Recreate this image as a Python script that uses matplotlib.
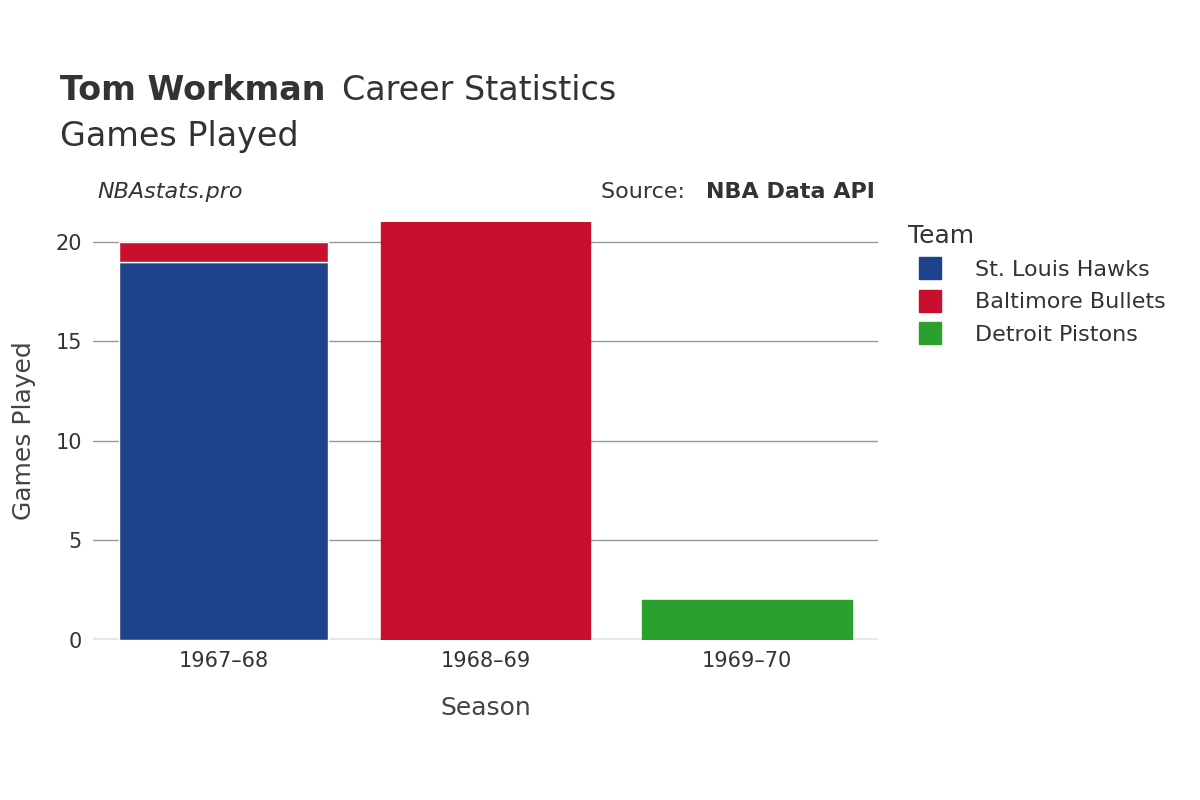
import matplotlib
matplotlib.use("Agg")
import matplotlib.pyplot as plt
from matplotlib.patches import FancyBboxPatch
from matplotlib.lines import Line2D

seasons = ["1967–68", "1968–69", "1969–70"]
teams = ["St. Louis Hawks", "Baltimore Bullets", "Detroit Pistons"]
colors = ["#1d4289", "#c8102e", "#2ca02c"]
hawks = [19, 0, 0]
bullets = [1, 21, 0]
pistons = [0, 0, 2]
series = [hawks, bullets, pistons]

fig = plt.figure(figsize=(12, 8), dpi=100)
ax = fig.add_axes([0.0775, 0.2, 0.654, 0.5225])
ax.set_xlim(-0.5, 2.5)
ax.set_ylim(0, 21)
ax.set_yticks([0, 5, 10, 15, 20])
ax.grid(axis="y", color="#999999", linewidth=1)
ax.set_axisbelow(True)
for s in ax.spines.values():
    s.set_visible(False)
ax.axhline(0, color="#e8e8e8", linewidth=3, zorder=1)
ax.tick_params(length=0, labelsize=15, colors="#333333", pad=8)
ax.set_xticks(range(3))
ax.set_xticklabels(seasons)

w = 0.8
for i in range(3):
    bottom = 0
    stack = [(series[k][i], colors[k]) for k in range(3) if series[k][i] > 0]
    for j, (v, c) in enumerate(stack):
        top_seg = j == len(stack) - 1
        ax.bar(i, v, w, bottom=bottom, color=c, edgecolor="white" if len(stack) > 1 else c, linewidth=1, zorder=2)
        bottom += v

ax.set_xlabel("Season", fontsize=18, color="#444444", labelpad=18)
ax.set_ylabel("Games Played", fontsize=18, color="#444444", labelpad=14)

fig.text(0.05, 0.875, "Tom Workman", fontsize=24, weight="bold", color="#333333")
fig.text(0.285, 0.875, "Career Statistics", fontsize=24, color="#333333")
fig.text(0.05, 0.818, "Games Played", fontsize=24, color="#333333")
fig.text(0.081, 0.752, "NBAstats.pro", fontsize=16, style="italic", color="#333333")
fig.text(0.729, 0.752, "Source: ", fontsize=16, color="#333333", ha="right")
fig.text(0.729, 0.752, "NBA Data API", fontsize=16, weight="bold", color="#333333", ha="right")
fig.texts[-2].set_position((0.577, 0.752)); fig.texts[-2].set_ha("right")

handles = [Line2D([0], [0], marker="s", linestyle="", markersize=16, markerfacecolor=c, markeredgecolor=c) for c in colors]
leg = fig.legend(handles, teams, loc="upper left", bbox_to_anchor=(0.74, 0.745), frameon=False,
                 title="Team", fontsize=16, title_fontsize=18, labelspacing=0.55, handletextpad=1.0, alignment="left")
for t in leg.get_texts():
    t.set_color("#333333")
leg.get_title().set_color("#333333")

fig.savefig("out.png", dpi=100)
